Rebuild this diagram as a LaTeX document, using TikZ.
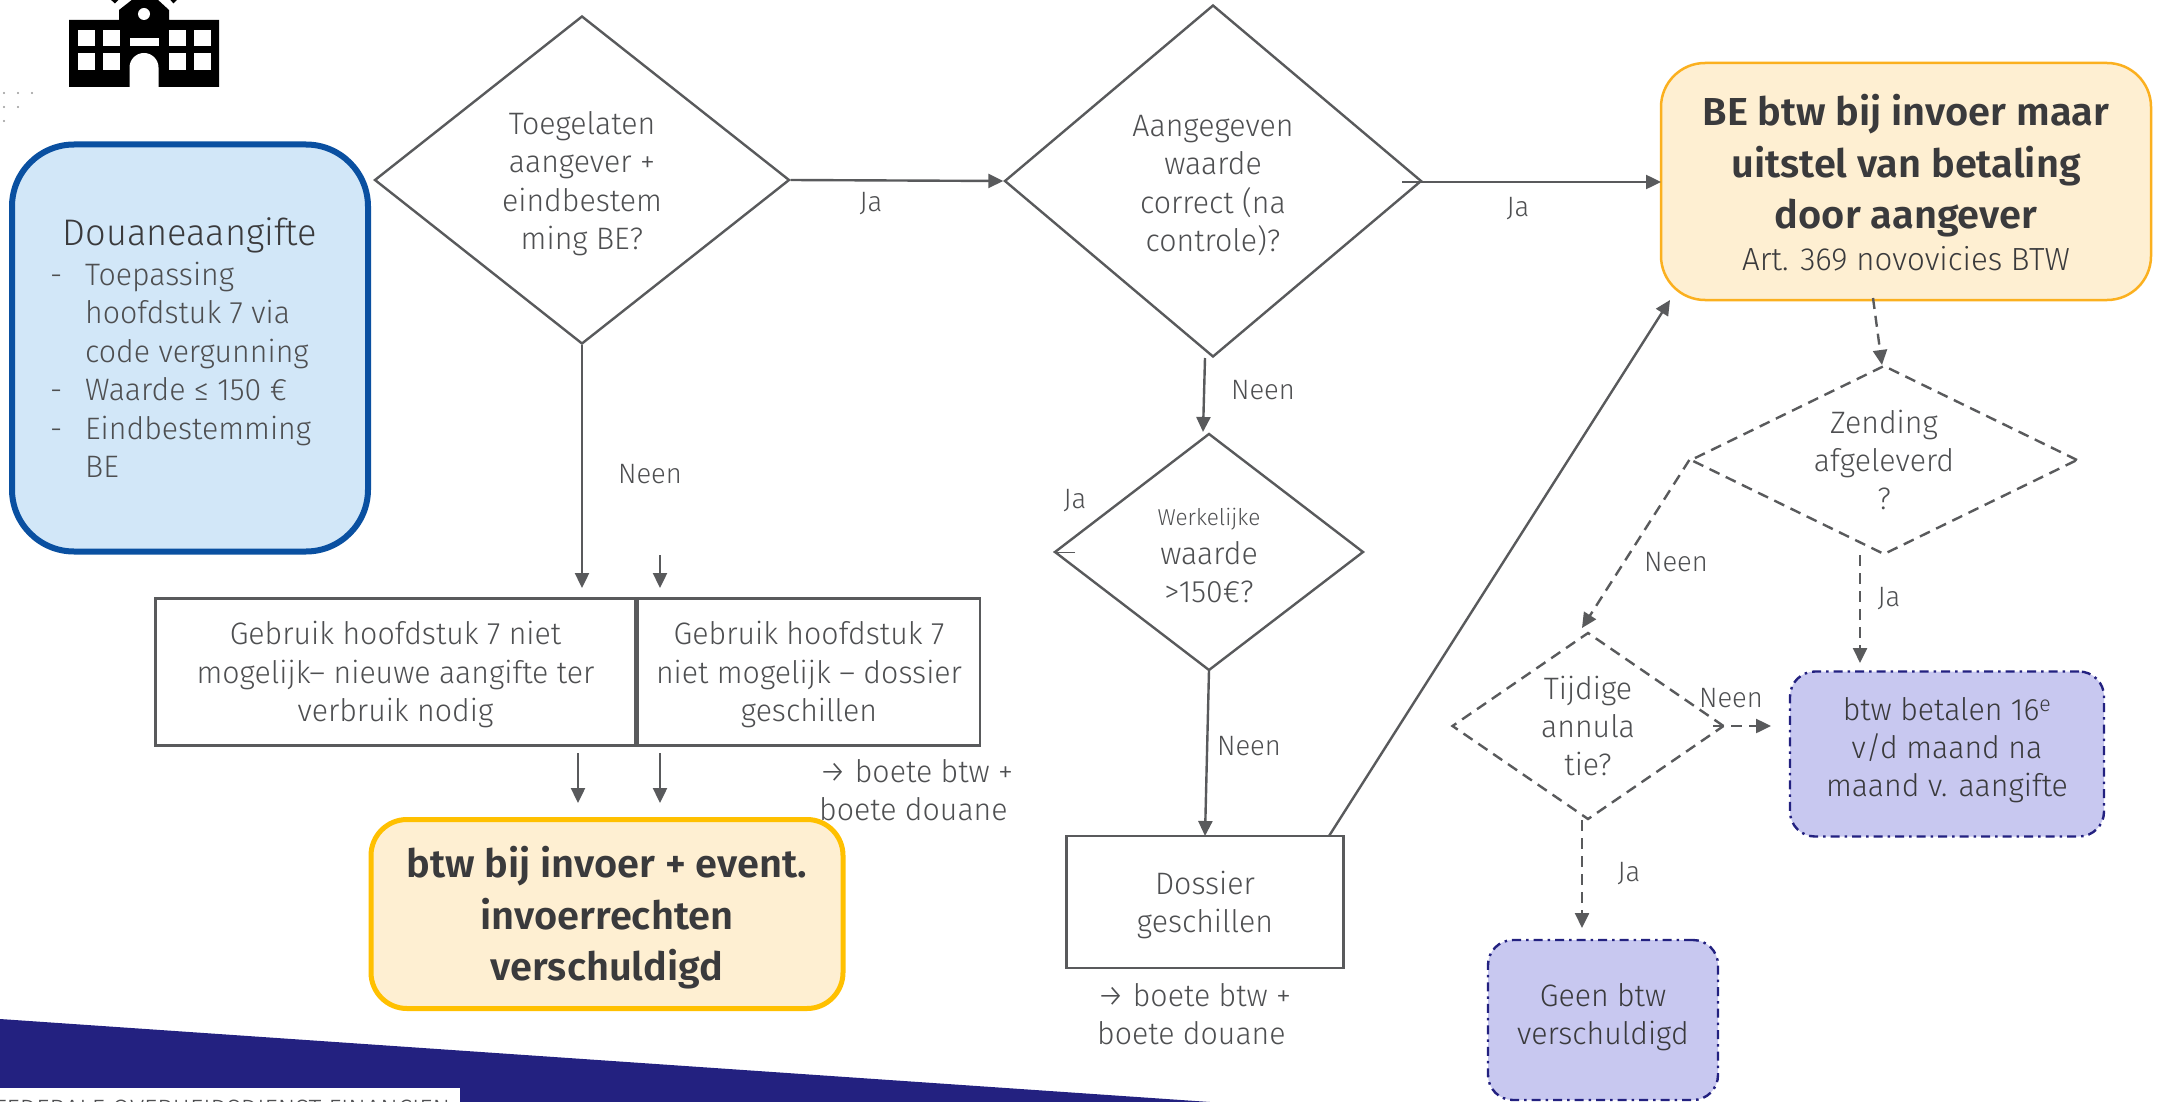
\documentclass[tikz,border=0pt]{standalone}
\usepackage{fontspec}
\setmainfont[FakeStretch=0.977]{Fira Sans Light}
\newfontfamily\semib[FakeStretch=1.02]{Fira Sans SemiBold}
\usetikzlibrary{shapes.geometric,arrows.meta}
\definecolor{ln}{HTML}{595A5C}
\definecolor{tx}{HTML}{4E4F51}
\definecolor{dk}{HTML}{3A3A3C}
\definecolor{bluefill}{HTML}{D2E7F8}
\definecolor{blueln}{HTML}{0A50A1}
\definecolor{yelfill}{HTML}{FEEFD2}
\definecolor{yelln}{HTML}{FFC000}
\definecolor{orln}{HTML}{FBB01F}
\definecolor{lavfill}{HTML}{C8C8F0}
\definecolor{navy}{HTML}{232180}
\newcommand{\ft}[2]{\fontsize{#1}{#2}\selectfont}
\newcommand{\dnstr}[1]{\rule{0pt}{#1pt}}
\newcommand{\upstr}[1]{\rule[-#1pt]{0pt}{0pt}}
\tikzset{
  flowtext/.style={text=tx,font=\ft{31}{38.4},align=center,inner sep=0pt},
  dia/.style={diamond,draw=ln,line width=2.4pt,flowtext,inner sep=0pt},
  dashdia/.style={dia,dashed,dash pattern=on 11pt off 7pt},
  plainbox/.style={rectangle,draw=ln,line width=2.4pt,flowtext},
  lavbox/.style={rectangle,rounded corners=25pt,draw=navy,fill=lavfill,line width=2.4pt,
     dash pattern=on 9pt off 5pt on 2.5pt off 5pt,flowtext,text=dk},
  conn/.style={draw=ln,line width=2.4pt,-{Triangle[length=15pt,width=14pt]}},
  dashconn/.style={conn,dash pattern=on 11pt off 7pt},
  lab/.style={text=tx,font=\ft{28}{38.4},inner sep=0pt},
  note/.style={text=tx,font=\ft{31}{38.4},align=left,inner sep=0pt,anchor=north west},
}
\begin{document}
\begin{tikzpicture}[x=1pt,y=-1pt]
\useasboundingbox (0,0) rectangle (2159,1102);
\fill[white] (0,0) rectangle (2159,1102);
\clip (0,0) rectangle (2159,1102);

% footer
\fill[navy] (0,1019) -- (1210,1102) -- (0,1102) -- cycle;
\fill[white] (0,1088) rectangle (460,1102);
\node[anchor=base west,text=tx,font=\ft{26.5}{30},inner sep=0pt] (footer) at (-6,1118) {FEDERALE OVERHEIDSDIENST FINANCIEN};

% building icon
\fill[black] (69,20) -- (119,20) -- (119,10) -- (133,-1) -- (157,-1) -- (169,10) -- (169,20) -- (219,20) -- (219,87) -- (69,87) -- cycle;
\fill[black] (110,-1) -- (115,3.5) -- (119.5,-1) -- cycle;
\fill[black] (169.5,-1) -- (173.5,3.5) -- (178,-1) -- cycle;
\fill[white] (144,14) circle (6);
\foreach \xa/\xb in {77.5/94.5,102.5/119.5,169/185.5,194/211}{
  \fill[white] (\xa,30) rectangle (\xb,46);
  \fill[white] (\xa,53.5) rectangle (\xb,70);
}
\fill[white] (129.5,38) rectangle (158.5,46);
\fill[white] (129.5,87) -- (129.5,67.5) arc[start angle=180,end angle=360,radius=14.5] -- (158.5,87) -- cycle;

% dots
\foreach \p in {(4,93),(18,93),(32,93),(4,107),(18,107),(4,121)} \fill[gray!80] \p circle (1.1);

% blue box
\node[rectangle,rounded corners=62pt,draw=blueln,fill=bluefill,line width=6pt,minimum width=356pt,minimum height=407pt] (blue) at (190,348) {};
\node[text=dk,font=\ft{37}{40},inner sep=0pt] (bluetitle) at (190,235) {Douaneaangifte};
\node[anchor=north west,text=tx,font=\ft{31}{38.4},align=left,inner sep=0pt] (bluelist) at (50,262) {%
\makebox[35pt][l]{-}Toepassing\\
\makebox[35pt][l]{}hoofdstuk 7 via\\
\makebox[35pt][l]{}code vergunning\\
\makebox[35pt][l]{-}Waarde ≤ 150 €\\
\makebox[35pt][l]{-}Eindbestemming\\
\makebox[35pt][l]{}BE};

% diamonds
\node[dia,minimum width=415pt,minimum height=328pt] (d1) at (582,180) {\dnstr{30}Toegelaten\\aangever +\\eindbestem\\ming BE?};
\node[dia,minimum width=417pt,minimum height=352pt] (d2) at (1213,181) {\dnstr{30}Aangegeven\\waarde\\correct (na\\controle)?};
\node[dia,minimum width=309pt,minimum height=237pt,shape aspect=1.3] (d3) at (1209,552) {\dnstr{25}{\ft{23}{38.4}Werkelijke}\\waarde\\>150€?};
\node[dashdia,minimum width=387pt,minimum height=189pt,shape aspect=2.05] (d4) at (1884,460) {Zending\\afgeleverd\\?};
\node[dashdia,minimum width=272pt,minimum height=187pt,shape aspect=1.45] (d5) at (1588,726) {Tijdige\\annula\\tie?};

% boxes
\node[plainbox,minimum width=480pt,minimum height=147pt] (b1) at (395.5,672) {\dnstr{29}Gebruik hoofdstuk 7 niet\\mogelijk– nieuwe aangifte ter\\verbruik nodig};
\node[plainbox,minimum width=342pt,minimum height=147pt] (b2) at (809,672) {\dnstr{29}Gebruik hoofdstuk 7\\niet mogelijk – dossier\\geschillen};
\node[plainbox,minimum width=277pt,minimum height=132pt] (b3) at (1205,902) {\dnstr{29}Dossier\\geschillen};
\node[rectangle,rounded corners=36pt,draw=yelln,fill=yelfill,line width=5pt,minimum width=472pt,minimum height=189pt,text=dk,align=center,inner sep=0pt,font=\ft{39}{51.5}\semib] (yel) at (607,914) {\dnstr{39}btw bij invoer + event.\\invoerrechten\\verschuldigd};
\node[rectangle,rounded corners=44pt,draw=orln,fill=yelfill,line width=2.5pt,minimum width=490pt,minimum height=237pt,inner sep=0pt] (or) at (1906,181.5) {};
\node[text=dk,align=center,inner sep=0pt,font=\ft{39}{51.5}\semib] (ortext) at (1906,166) {BE btw bij invoer maar\\uitstel van betaling\\door aangever};
\node[text=dk,inner sep=0pt,font=\ft{32}{38}] (orsub) at (1906,259) {Art. 369 novovicies BTW};
\node[lavbox,minimum width=314pt,minimum height=165pt] (l1) at (1947,754) {btw betalen 16\textsuperscript{e}\\v/d maand na\\maand v. aangifte\upstr{14}};
\node[lavbox,minimum width=230pt,minimum height=160pt] (l2) at (1603,1020) {Geen btw\\verschuldigd\upstr{12}};

% free ends of connectors
\coordinate (a1) at (660,555); \coordinate (a2) at (660,588);
\coordinate (a3) at (578,753); \coordinate (a4) at (578,803);
\coordinate (a5) at (660,753); \coordinate (a6) at (660,803);
\coordinate (a7) at (582,588);
\coordinate (s2) at (1402,182); \coordinate (e2) at (1661,182);
\coordinate (s3) at (1205,358); \coordinate (e3) at (1203,432);
\coordinate (s4) at (1209,670); \coordinate (e4) at (1205,836);
\coordinate (s5) at (1329,836); \coordinate (e5) at (1670,300);
\coordinate (s6) at (1873,298); \coordinate (e6) at (1882,365);
\coordinate (e7) at (1582,628);
\coordinate (s8) at (1860,555); \coordinate (e8) at (1860,663);
\coordinate (s9) at (1713,726); \coordinate (e9) at (1771,726);
\coordinate (s10) at (1582,820); \coordinate (e10) at (1582,928);
\coordinate (s11) at (1075,552);

% connectors
\draw[conn] (d1.east) -- (d2.west);
\draw[conn] (d1.south) -- (a7);
\draw[conn] (a1) -- (a2);
\draw[conn] (a3) -- (a4);
\draw[conn] (a5) -- (a6);
\draw[conn] (s2) -- (e2);
\draw[conn] (s3) -- (e3);
\draw[conn] (s4) -- (e4);
\draw[conn] (s5) -- (e5);
\draw[dashconn] (s6) -- (e6);
\draw[dashconn] (d4.west) -- (e7);
\draw[dashconn] (s8) -- (e8);
\draw[dashconn] (s9) -- (e9);
\draw[dashconn] (s10) -- (e10);
\draw[draw=ln,line width=.8pt,-{To[length=8pt,width=10pt]}] (s11) -- (d3.west);

% labels
\node[lab] (l01) at (871,204) {Ja};
\node[lab] (l02) at (650,474) {Neen};
\node[lab] (l03) at (1518,209) {Ja};
\node[lab] (l04) at (1263,390) {Neen};
\node[lab] (l05) at (1075,501) {Ja};
\node[lab] (l06) at (1249,746) {Neen};
\node[lab] (l07) at (1676,562) {Neen};
\node[lab] (l08) at (1889,599) {Ja};
\node[lab] (l09) at (1731,698) {Neen};
\node[lab] (l10) at (1629,874) {Ja};

\node[note] (n1) at (819,759) {→ boete btw +\\boete douane};
\node[note] (n2) at (1097,983) {→ boete btw +\\boete douane};
\end{tikzpicture}
\end{document}
